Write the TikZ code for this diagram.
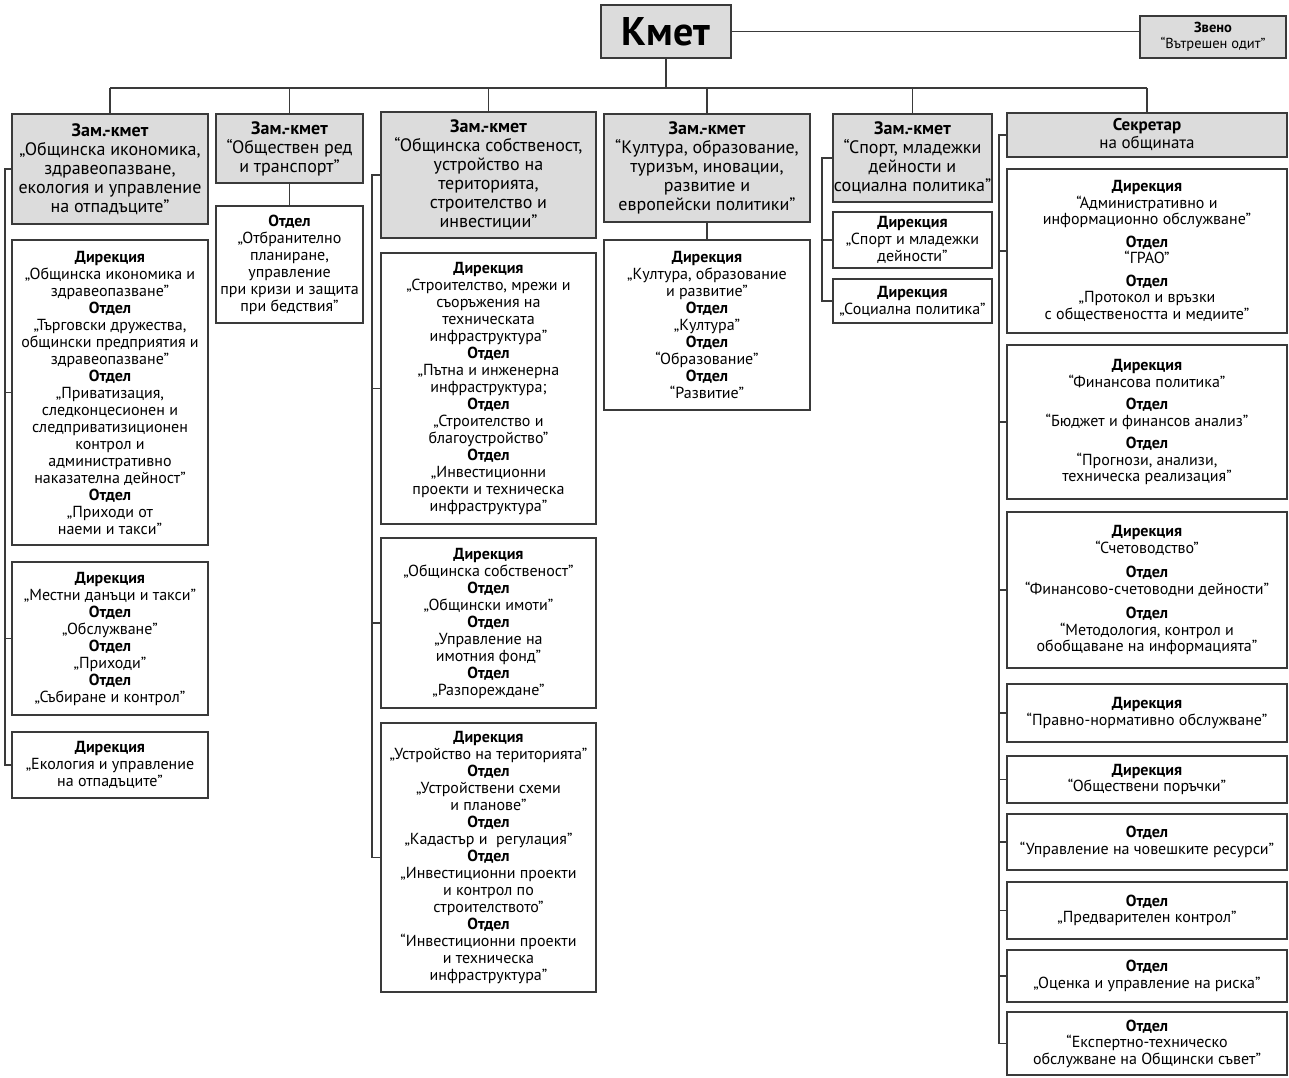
\documentclass[tikz,border=0pt]{standalone}
\usepackage{fontspec}
\setmainfont{PT Sans}
\definecolor{ln}{HTML}{3A3A3A}
\definecolor{hd}{HTML}{DCDCDC}
\newcommand\B[1]{\textbf{#1}\\}
\newcommand\bx[7]{%
  \pgfmathsetmacro\BXw{#4-#2}\pgfmathsetmacro\BXh{#5-#3}%
  \pgfmathsetmacro\BXcx{(#2+#4)/2}\pgfmathsetmacro\BXcy{(#3+#5)/2}%
  \node[#6, minimum width=\BXw pt, minimum height=\BXh pt] (#1) at (\BXcx,\BXcy) {#7};}
\begin{document}
\begin{tikzpicture}[x=1pt,y=-1pt,
  box/.style={draw=ln, line width=1.3pt, fill=white, align=center, inner xsep=1pt, inner ysep=0pt, font=\fontsize{16}{17}\selectfont},
  head/.style={box, fill=hd, font=\fontsize{18}{19}\selectfont},
  sbox/.style={box, font=\fontsize{16}{16.5}\selectfont},
  conn/.style={draw=ln, line width=1.3pt}]
\useasboundingbox[fill=white] (0,0) rectangle (1289,1077);

% top
\node[draw=ln, line width=1.3pt, fill=hd, minimum width=130pt, minimum height=53pt, inner sep=0pt, font=\bfseries\fontsize{40}{42}\selectfont] (kmet) at (666,31.5) {Кмет};
\bx{zveno}{1140}{16}{1286}{58}{box,fill=hd,font=\fontsize{14.5}{16}\selectfont}{\B{Звено}“Вътрешен одит”}

% column 1
\bx{z1}{12}{114}{208}{224}{head}{\B{Зам.-кмет}„Общинска икономика,\\здравеопазване,\\екология и управление\\на отпадъците”}
\bx{d11}{12}{240}{208}{545}{box}{\B{Дирекция}„Общинска икономика и\\здравеопазване”\\\B{Отдел}„Търговски дружества,\\общински предприятия и\\здравеопазване”\\\B{Отдел}„Приватизация,\\следконцесионен и\\следприватизиционен\\контрол и\\административно\\наказателна дейност”\\\B{Отдел}„Приходи от\\наеми и такси”}
\bx{d12}{12}{562}{208}{715}{box}{\B{Дирекция}„Местни данъци и такси”\\\B{Отдел}„Обслужване”\\\B{Отдел}„Приходи”\\\B{Отдел}„Събиране и контрол”}
\bx{d13}{12}{732}{208}{798}{box}{\B{Дирекция}„Екология и управление\\на отпадъците”}

% column 2
\bx{z2}{216}{114}{363}{183}{head}{\B{Зам.-кмет}“Обществен ред\\и транспорт”}
\bx{d21}{216}{206}{363}{323}{box}{\B{Отдел}„Отбранително\\планиране,\\управление\\при кризи и защита\\при бедствия”}

% column 3
\bx{z3}{381}{112}{596}{238}{head}{\B{Зам.-кмет}“Общинска собственост,\\устройство на\\територията,\\строителство и\\инвестиции”}
\bx{d31}{381}{253}{596}{524}{box}{\B{Дирекция}„Строителство, мрежи и\\съоръжения на\\техническата\\инфраструктура”\\\B{Отдел}„Пътна и инженерна\\инфраструктура;\\\B{Отдел}„Строителство и\\благоустройство”\\\B{Отдел}„Инвестиционни\\проекти и техническа\\инфраструктура”}
\bx{d32}{381}{538}{596}{708}{box}{\B{Дирекция}„Общинска собственост”\\\B{Отдел}„Общински имоти”\\\B{Отдел}„Управление на\\имотния фонд”\\\B{Отдел}„Разпореждане”}
\bx{d33}{381}{723}{596}{992}{box}{\B{Дирекция}„Устройство на територията”\\\B{Отдел}„Устройствени схеми\\и планове”\\\B{Отдел}„Кадастър и~ регулация”\\\B{Отдел}„Инвестиционни проекти\\и контрол по\\строителството”\\\B{Отдел}“Инвестиционни проекти\\и техническа\\инфраструктура”}

% column 4
\bx{z4}{604}{114}{810}{222}{head}{\B{Зам.-кмет}“Култура, образование,\\туризъм, иновации,\\развитие и\\европейски политики”}
\bx{d41}{604}{240}{810}{410}{box}{\B{Дирекция}„Култура, образование\\и развитие”\\\B{Отдел}„Култура”\\\B{Отдел}“Образование”\\\B{Отдел}“Развитие”}

% column 5
\bx{z5}{833}{114}{992}{202}{head}{\B{Зам.-кмет}“Спорт, младежки\\дейности и\\социална политика”}
\bx{d51}{833}{212}{992}{268}{box}{\B{Дирекция}„Спорт и младежки\\дейности”}
\bx{d52}{833}{279}{992}{323}{box}{\B{Дирекция}„Социална политика”}

% column 6
\bx{z6}{1007}{113}{1287}{157}{head,font=\fontsize{17}{18}\selectfont}{\B{Секретар}на общината}
\bx{d61}{1007}{169}{1287}{333}{sbox}{\B{Дирекция}“Административно и\\информационно обслужване”\\[6pt]\B{Отдел}“ГРАО”\\[6pt]\B{Отдел}„Протокол и връзки\\с обществеността и медиите”}
\bx{d62}{1007}{345}{1287}{499}{sbox}{\B{Дирекция}“Финансова политика”\\[6pt]\B{Отдел}“Бюджет и финансов анализ”\\[6pt]\B{Отдел}“Прогнози, анализи,\\техническа реализация”}
\bx{d63}{1007}{512}{1287}{668}{sbox}{\B{Дирекция}“Счетоводство”\\[8pt]\B{Отдел}“Финансово-счетоводни дейности”\\[8pt]\B{Отдел}“Методология, контрол и\\обобщаване на информацията”}
\bx{d64}{1007}{684}{1287}{742}{sbox}{\B{Дирекция}“Правно-нормативно обслужване”}
\bx{d65}{1007}{756}{1287}{803}{sbox}{\B{Дирекция}“Обществени поръчки”}
\bx{d66}{1007}{814}{1287}{870}{sbox}{\B{Отдел}“Управление на човешките ресурси”}
\bx{d67}{1007}{882}{1287}{939}{sbox}{\B{Отдел}„Предварителен контрол”}
\bx{d68}{1007}{950}{1287}{1002}{sbox}{\B{Отдел}„Оценка и управление на риска”}
\bx{d69}{1007}{1012}{1287}{1075}{sbox}{\B{Отдел}“Експертно-техническо\\обслужване на Общински съвет”}

% connectors: top
\coordinate (bus) at (0,88);
\draw[conn] (kmet.east) -- (kmet.east -| zveno.west);
\draw[conn] (kmet.south) -- (kmet.south |- bus);
\draw[conn] (z1.north |- bus) -- (z6.north |- bus);
\foreach \z in {z1,z2,z3,z4,z5,z6} \draw[conn] (\z.north) -- (\z.north |- bus);

% column 1 bracket
\coordinate (b1) at (5,0);
\draw[conn] (z1.west) -- (z1.west -| b1) -- (d13.west -| b1) -- (d13.west);
\foreach \d in {d11,d12} \draw[conn] (\d.west -| b1) -- (\d.west);

% column 2, 4
\draw[conn] (z2.south) -- (d21.north);
\draw[conn] (z4.south) -- (d41.north);

% column 3 bracket
\coordinate (b3) at (372,0);
\draw[conn] (z3.west) -- (z3.west -| b3) -- (d33.west -| b3) -- (d33.west);
\foreach \d in {d31,d32} \draw[conn] (\d.west -| b3) -- (\d.west);

% column 5 bracket
\coordinate (b5) at (822,0);
\draw[conn] (z5.west) -- (z5.west -| b5) -- (d52.west -| b5) -- (d52.west);
\draw[conn] (d51.west -| b5) -- (d51.west);

% column 6 bracket
\coordinate (b6) at (999,0);
\draw[conn] (z6.west) -- (z6.west -| b6) -- (d69.west -| b6) -- (d69.west);
\foreach \d in {d61,d62,d63,d64,d65,d66,d67,d68} \draw[conn] (\d.west -| b6) -- (\d.west);
\end{tikzpicture}
\end{document}
